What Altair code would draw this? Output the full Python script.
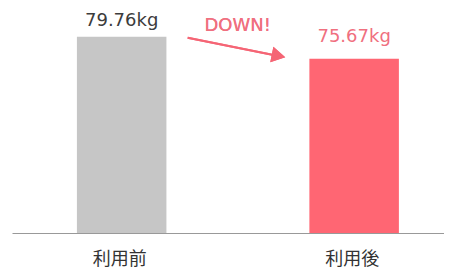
import altair as alt
import pandas as pd

categories = ["利用前", "利用後"]
values = [79.76, 75.67]
labels = ["79.76kg", "75.67kg"]
bar_colors = ["#c6c6c6", "#ff6673"]
annotation = "DOWN!"

df = pd.DataFrame({"cat": categories, "value": values, "label": labels})

PINK = "#f56575"
TEXT_PINK = "#f0707f"

xscale = alt.Scale(domain=categories, paddingInner=0.615, paddingOuter=0.2366, align=0.59)
yscale = alt.Scale(domain=[43.27, 85.10], zero=False, nice=False, clamp=True)

x = alt.X("cat:N", scale=xscale, sort=categories,
          axis=alt.Axis(title=None, labelAngle=0, ticks=False, labelPadding=17, labelOffset=-2,
                        labelFont="Noto Sans CJK JP", labelFontSize=18, labelColor="#333333",
                        labelBaseline="top",
                        domainColor="#999999", domainWidth=1.2, zindex=1))
y = alt.Y("value:Q", scale=yscale, axis=None)

bars = alt.Chart(df).mark_bar().encode(
    x=x, y=y,
    color=alt.Color("cat:N", scale=alt.Scale(domain=categories, range=bar_colors), legend=None),
)

lab0 = alt.Chart(df).transform_filter(alt.datum.cat == categories[0]).mark_text(
    font="DejaVu Sans", fontSize=18, color="#3c3c3c", baseline="alphabetic", dy=-10.7
).encode(x=alt.X("cat:N", scale=xscale), y=alt.Y("value:Q", scale=yscale), text="label:N")

lab1 = alt.Chart(df).transform_filter(alt.datum.cat == categories[1]).mark_text(
    font="DejaVu Sans", fontSize=18, color=TEXT_PINK, baseline="alphabetic", dy=-16.6
).encode(x=alt.X("cat:N", scale=xscale), y=alt.Y("value:Q", scale=yscale), text="label:N")

arrow_line = alt.Chart(df).mark_rule(
    color=PINK, strokeWidth=2, xOffset=66, x2Offset=-72, yOffset=1, y2Offset=-2
).encode(
    x=alt.datum(categories[0], scale=xscale, type="nominal"),
    x2=alt.datum(categories[1]),
    y=alt.datum(values[0], scale=yscale, type="quantitative"),
    y2=alt.datum(values[1]),
)

arrow_head = alt.Chart(df).mark_point(
    shape="triangle-right", filled=True, size=250, angle=11.3, color=PINK, opacity=1,
    xOffset=-75.6, yOffset=-2.8
).encode(
    x=alt.datum(categories[1], scale=xscale, type="nominal"),
    y=alt.datum(values[1], scale=yscale, type="quantitative"),
)

down = alt.Chart(df).mark_text(
    text=annotation, font="DejaVu Sans", fontSize=18, color=TEXT_PINK,
    baseline="alphabetic", xOffset=116, dy=-5.7
).encode(
    x=alt.datum(categories[0], scale=xscale, type="nominal"),
    y=alt.datum(values[0], scale=yscale, type="quantitative"),
)

chart = alt.layer(bars, lab0, lab1, arrow_line, arrow_head, down).properties(
    width=432, height=225,
    padding={"left": 4, "top": 0, "right": 0, "bottom": 0},
    background="white",
).configure_view(strokeWidth=0)

chart.save("out.html", embed_options={"renderer": "svg", "actions": False})
